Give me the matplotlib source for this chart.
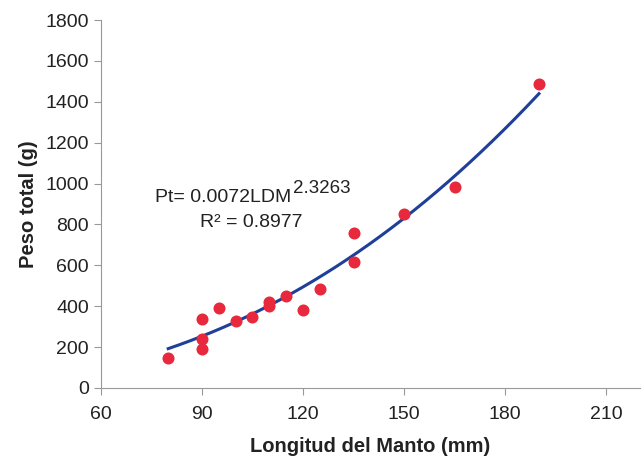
# Peso total vs longitud del manto, with power fit

import matplotlib.pyplot as plt
import numpy as np

plt.rcParams["font.family"] = ["Liberation Sans", "DejaVu Sans"]

ldm = [80, 90, 90, 90, 95, 100, 105, 110, 110, 115, 120, 125, 135, 135, 150, 165, 190]
peso = [145, 339, 240, 189, 393, 328, 347, 422, 403, 450, 381, 484, 758, 618, 853, 982, 1486]

coef_a = 0.0072
coef_b = 2.3263
r2 = 0.8977

W, H = 642, 457
fig, ax = plt.subplots(figsize=(W / 100, H / 100), dpi=100)
fig.subplots_adjust(left=0.157, right=0.997, bottom=0.151, top=0.956)

ax.scatter(ldm, peso, s=75, color="#e8283c", zorder=3, linewidths=0)

xfit = np.linspace(min(ldm), max(ldm), 200)
ax.plot(xfit, coef_a * xfit ** coef_b, color="#1f3f99", lw=2.2, zorder=2)

# equation and R² (Excel-style trendline label)
txt = dict(transform=fig.transFigure, color="#222222", va="baseline")
ax.text(155 / W, 1 - 202 / H, f"Pt= {coef_a}LDM", fontsize=14, **txt)
ax.text(293 / W, 1 - 193 / H, f"{coef_b}", fontsize=13.5, **txt)
ax.text(200 / W, 1 - 227 / H, f"R² = {r2}", fontsize=14, **txt)

ax.set_xlim(60, 220)
ax.set_ylim(0, 1800)
ax.set_xticks([60, 90, 120, 150, 180, 210])
ax.set_yticks(range(0, 1801, 200))

for side in ["top", "right"]:
    ax.spines[side].set_visible(False)
for side in ["left", "bottom"]:
    ax.spines[side].set_color("#999999")
ax.tick_params(colors="#999999", labelcolor="#222222", labelsize=14, length=5)
ax.tick_params(axis="x", pad=8)

ax.set_xlabel("Longitud del Manto (mm)", fontsize=14.5, fontweight="bold",
              color="#222222", labelpad=10)
ax.set_ylabel("Peso total (g)", fontsize=14.5, fontweight="bold",
              color="#222222", labelpad=5)

fig.savefig("out.png")
